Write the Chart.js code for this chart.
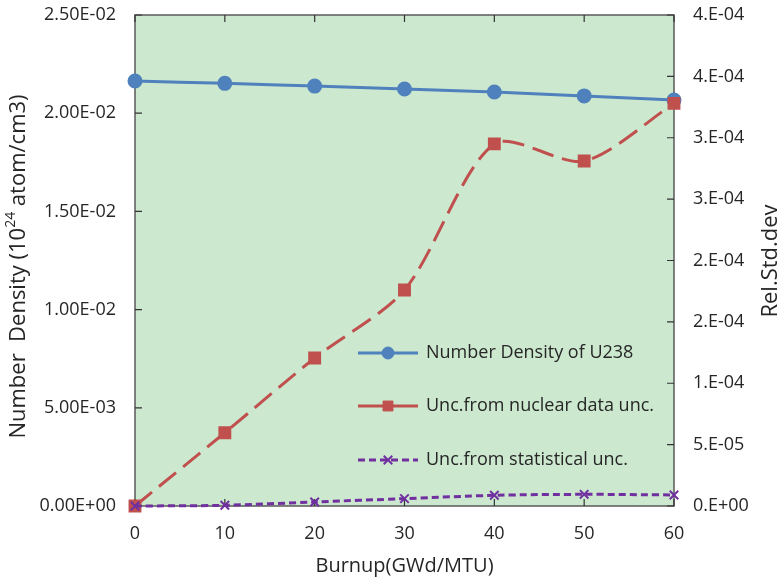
<!DOCTYPE html>
<html>
<head>
<meta charset="utf-8">
<script src="https://cdn.jsdelivr.net/npm/chart.js@4/dist/chart.umd.min.js"></script>
<style>
  html, body { margin: 0; padding: 0; background: #fff; }
  #wrap { width: 779px; height: 582px; position: relative; }
</style>
</head>
<body>
<div id="wrap"><canvas id="burnupChart"></canvas></div>
<script>
// Burnup points (GWd/MTU)
const burnup = [0, 10, 20, 30, 40, 50, 60];
// Number density of U238 (10^24 atom/cm3) - left axis
const numberDensity = [0.02164, 0.02152, 0.02138, 0.02123, 0.02108, 0.02088, 0.02067];
// Rel. std. dev - right axis
const nuclearDataUnc = [0, 5.97e-5, 1.206e-4, 1.76e-4, 2.95e-4, 2.81e-4, 3.28e-4];
const statisticalUnc = [0, 0.6e-6, 3.3e-6, 6.0e-6, 8.7e-6, 9.5e-6, 9.0e-6];

const seriesNames = ['Number Density of U238', 'Unc.from nuclear data unc.', 'Unc.from statistical unc.'];
const leftTickLabels = ['0.00E+00', '5.00E-03', '1.00E-02', '1.50E-02', '2.00E-02', '2.50E-02'];
const rightTickLabels = ['0.E+00', '5.E-05', '1.E-04', '2.E-04', '2.E-04', '3.E-04', '3.E-04', '4.E-04', '4.E-04'];

const FONT = "'Open Sans', 'Noto Sans', sans-serif";
const TEXT = '#262626';
const AXIS = '#595959';

// fond vert + cadre + petites graduations vers l'intérieur
const plotDeco = {
    id: 'plotDeco',
    beforeDatasetsDraw(chart) {
        const { ctx, chartArea: a, scales } = chart;
        ctx.save();
        ctx.fillStyle = '#CCE8CF';
        ctx.fillRect(a.left, a.top, a.right - a.left, a.bottom - a.top);
        ctx.strokeStyle = AXIS;
        ctx.lineWidth = 1.5;
        ctx.strokeRect(a.left, a.top, a.right - a.left, a.bottom - a.top);
        ctx.lineWidth = 1.2;
        ctx.strokeStyle = '#333';
        ctx.beginPath();
        scales.y.ticks.forEach((t, i) => {
            const y = scales.y.getPixelForTick(i);
            ctx.moveTo(a.left, y); ctx.lineTo(a.left + 7, y);
        });
        scales.y2.ticks.forEach((t, i) => {
            const y = scales.y2.getPixelForTick(i);
            ctx.moveTo(a.right, y); ctx.lineTo(a.right - 7, y);
        });
        scales.x.ticks.forEach((t, i) => {
            const x = scales.x.getPixelForTick(i);
            ctx.moveTo(x, a.bottom); ctx.lineTo(x, a.bottom - 7);
            ctx.moveTo(x, a.top); ctx.lineTo(x, a.top + 7);
        });
        ctx.stroke();
        ctx.restore();
    },
    afterDraw(chart) {
        const { ctx, chartArea: a } = chart;
        ctx.save();
        ctx.fillStyle = TEXT;
        ctx.textBaseline = 'middle';
        const midY = (a.top + a.bottom) / 2;

        // titre axe gauche avec exposant
        ctx.save();
        ctx.translate(19, midY + 6);
        ctx.rotate(-Math.PI / 2);
        const p1 = 'Number  Density (10', p2 = '24', p3 = ' atom/cm3)';
        ctx.font = '22px ' + FONT;
        const w1 = ctx.measureText(p1).width, w3 = ctx.measureText(p3).width;
        ctx.font = '14px ' + FONT;
        const w2 = ctx.measureText(p2).width;
        let x = -(w1 + w2 + w3) / 2;
        ctx.textAlign = 'left';
        ctx.font = '22px ' + FONT;
        ctx.fillText(p1, x, 0); x += w1;
        ctx.font = '14px ' + FONT;
        ctx.fillText(p2, x, -8); x += w2;
        ctx.font = '22px ' + FONT;
        ctx.fillText(p3, x, 0);
        ctx.restore();

        // titre axe droit
        ctx.save();
        ctx.translate(771, 261);
        ctx.rotate(-Math.PI / 2);
        ctx.textAlign = 'center';
        ctx.font = '22px ' + FONT;
        ctx.fillText('Rel.Std.dev', 0, 0);
        ctx.restore();

        // titre axe x
        ctx.textAlign = 'center';
        ctx.font = '20px ' + FONT;
        ctx.fillText('Burnup(GWd/MTU)', (a.left + a.right) / 2, 566);

        // légende dans la zone de tracé
        const rows = [353, 406, 460];
        chart.data.datasets.forEach((ds, i) => {
            const y = rows[i];
            ctx.save();
            ctx.strokeStyle = ds.borderColor;
            ctx.lineWidth = ds.borderWidth;
            ctx.setLineDash(i === 2 ? ds.borderDash : []);
            ctx.beginPath();
            ctx.moveTo(358, y); ctx.lineTo(418, y);
            ctx.stroke();
            ctx.setLineDash([]);
            ctx.fillStyle = ds.pointBackgroundColor;
            ctx.strokeStyle = ds.pointBorderColor;
            ctx.lineWidth = ds.pointBorderWidth || 1;
            Chart.helpers.drawPoint(ctx, {
                pointStyle: ds.pointStyle, radius: ds.pointRadius, borderWidth: ds.pointBorderWidth || 1
            }, 388, y);
            ctx.restore();
            ctx.fillStyle = TEXT;
            ctx.textAlign = 'left';
            ctx.font = '18px ' + FONT;
            ctx.fillText(seriesNames[i], 426, y);
        });
        ctx.restore();
    }
};

function initChart() {
    const ctx = document.getElementById('burnupChart').getContext('2d');
    new Chart(ctx, {
        type: 'line',
        data: {
            labels: burnup,
            datasets: [
                {
                    label: seriesNames[0],
                    data: numberDensity,
                    yAxisID: 'y',
                    borderColor: '#4F81BD',
                    backgroundColor: '#4F81BD',
                    pointBackgroundColor: '#4F81BD',
                    pointBorderColor: '#4F81BD',
                    borderWidth: 3,
                    pointStyle: 'circle',
                    pointRadius: 6,
                    tension: 0.3,
                    clip: false,
                    order: 3
                },
                {
                    label: seriesNames[1],
                    data: nuclearDataUnc,
                    yAxisID: 'y2',
                    borderColor: '#C0504D',
                    backgroundColor: '#C0504D',
                    pointBackgroundColor: '#C0504D',
                    pointBorderColor: '#C0504D',
                    borderWidth: 3,
                    borderDash: [22, 9],
                    pointStyle: 'rect',
                    pointRadius: 7,
                    tension: 0.28,
                    clip: false,
                    order: 2
                },
                {
                    label: seriesNames[2],
                    data: statisticalUnc,
                    yAxisID: 'y2',
                    borderColor: '#7030A0',
                    backgroundColor: '#7030A0',
                    pointBackgroundColor: '#7030A0',
                    pointBorderColor: '#7030A0',
                    borderWidth: 3,
                    borderDash: [7, 4],
                    pointStyle: 'crossRot',
                    pointRadius: 6,
                    pointBorderWidth: 2,
                    tension: 0.3,
                    clip: false,
                    order: 1
                }
            ]
        },
        options: {
            responsive: true,
            maintainAspectRatio: false,
            animation: false,
            layout: { padding: { top: 15, left: 0, right: 0, bottom: 0 } },
            plugins: {
                legend: { display: false },
                tooltip: { enabled: false }
            },
            scales: {
                x: {
                    type: 'category',
                    offset: false,
                    grid: { display: false, drawTicks: false },
                    border: { display: false },
                    ticks: { color: TEXT, font: { family: FONT, size: 18 }, padding: 17, maxRotation: 0 },
                    afterFit: (s) => { s.height = 76; s.paddingLeft = 0; s.paddingRight = 0; }
                },
                y: {
                    position: 'left',
                    min: 0, max: 0.025,
                    grid: { display: false, drawTicks: false },
                    border: { display: false },
                    ticks: {
                        stepSize: 0.005,
                        color: TEXT, font: { family: FONT, size: 18 }, padding: 19,
                        callback: (v, i) => leftTickLabels[i]
                    },
                    afterFit: (s) => { s.width = 135; s.paddingTop = 0; s.paddingBottom = 0; }
                },
                y2: {
                    position: 'right',
                    min: 0, max: 4e-4,
                    grid: { display: false, drawTicks: false },
                    border: { display: false },
                    ticks: {
                        stepSize: 5e-5,
                        color: TEXT, font: { family: FONT, size: 18 }, padding: 19,
                        callback: (v, i) => rightTickLabels[i]
                    },
                    afterFit: (s) => { s.width = 105; s.paddingTop = 0; s.paddingBottom = 0; }
                }
            }
        },
        plugins: [plotDeco]
    });
}

window.onload = () => {
    initChart();
};
</script>
</body>
</html>
